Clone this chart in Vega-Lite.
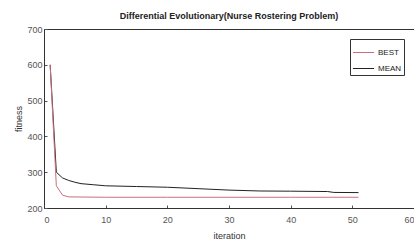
{
  "$schema": "https://vega.github.io/schema/vega-lite/v6.json",
  "autosize": {"type": "none"},
  "padding": {"left": 44, "top": 29, "right": 0, "bottom": 43},
  "width": 370,
  "height": 179,
  "background": "white",
  "title": {"text": "Differential Evolutionary(Nurse Rostering Problem)", "font": "Liberation Sans", "fontSize": 9, "fontWeight": "bold", "color": "#222", "offset": 4, "anchor": "middle", "dx": 0},
  "config": {
    "view": {"stroke": "#333", "strokeWidth": 1},
    "axis": {"labelFont": "Liberation Sans", "labelFontSize": 9, "labelColor": "#555", "titleFont": "Liberation Sans", "titleFontSize": 9, "titleFontWeight": "normal", "titleColor": "#333", "grid": false, "domainColor": "#333", "tickColor": "#555", "tickSize": -3}
  },
  "data": {"values": [
    {"iteration": 1, "fitness": 600, "series": "MEAN"},
    {"iteration": 2, "fitness": 300, "series": "MEAN"},
    {"iteration": 3, "fitness": 284, "series": "MEAN"},
    {"iteration": 4, "fitness": 277, "series": "MEAN"},
    {"iteration": 5, "fitness": 272, "series": "MEAN"},
    {"iteration": 6, "fitness": 268, "series": "MEAN"},
    {"iteration": 8, "fitness": 265, "series": "MEAN"},
    {"iteration": 10, "fitness": 262, "series": "MEAN"},
    {"iteration": 15, "fitness": 260, "series": "MEAN"},
    {"iteration": 20, "fitness": 258, "series": "MEAN"},
    {"iteration": 25, "fitness": 254, "series": "MEAN"},
    {"iteration": 30, "fitness": 250, "series": "MEAN"},
    {"iteration": 35, "fitness": 247.5, "series": "MEAN"},
    {"iteration": 40, "fitness": 247, "series": "MEAN"},
    {"iteration": 46, "fitness": 246, "series": "MEAN"},
    {"iteration": 47, "fitness": 243.5, "series": "MEAN"},
    {"iteration": 51, "fitness": 243, "series": "MEAN"},
    {"iteration": 1, "fitness": 600, "series": "BEST"},
    {"iteration": 2, "fitness": 262, "series": "BEST"},
    {"iteration": 3, "fitness": 236, "series": "BEST"},
    {"iteration": 4, "fitness": 231, "series": "BEST"},
    {"iteration": 10, "fitness": 230, "series": "BEST"},
    {"iteration": 20, "fitness": 230, "series": "BEST"},
    {"iteration": 30, "fitness": 230, "series": "BEST"},
    {"iteration": 40, "fitness": 230, "series": "BEST"},
    {"iteration": 51, "fitness": 230, "series": "BEST"}
  ]},
  "mark": {"type": "line", "strokeWidth": 1},
  "encoding": {
    "x": {"field": "iteration", "type": "quantitative", "scale": {"domain": [0, 60], "nice": false}, "axis": {"values": [0, 10, 20, 30, 40, 50, 60], "title": "iteration", "labelPadding": 10, "titlePadding": 7}},
    "y": {"field": "fitness", "type": "quantitative", "scale": {"domain": [200, 700], "nice": false}, "axis": {"values": [200, 300, 400, 500, 600, 700], "title": "fitness", "labelPadding": 5, "titlePadding": 3}},
    "color": {"field": "series", "type": "nominal", "scale": {"domain": ["BEST", "MEAN"], "range": ["#c8707f", "#222222"]},
      "legend": {"title": null, "orient": "none", "legendX": 306, "legendY": 10, "direction": "vertical", "padding": 2, "strokeColor": "#333", "fillColor": "white", "symbolType": "stroke", "symbolSize": 450, "symbolStrokeWidth": 1, "labelFont": "Liberation Sans", "labelFontSize": 8, "labelColor": "#222", "rowPadding": 0, "labelOffset": 3,
        "encode": {"symbols": {"update": {"stroke": {"value": "#222"}}}}}
    }
  }
}
